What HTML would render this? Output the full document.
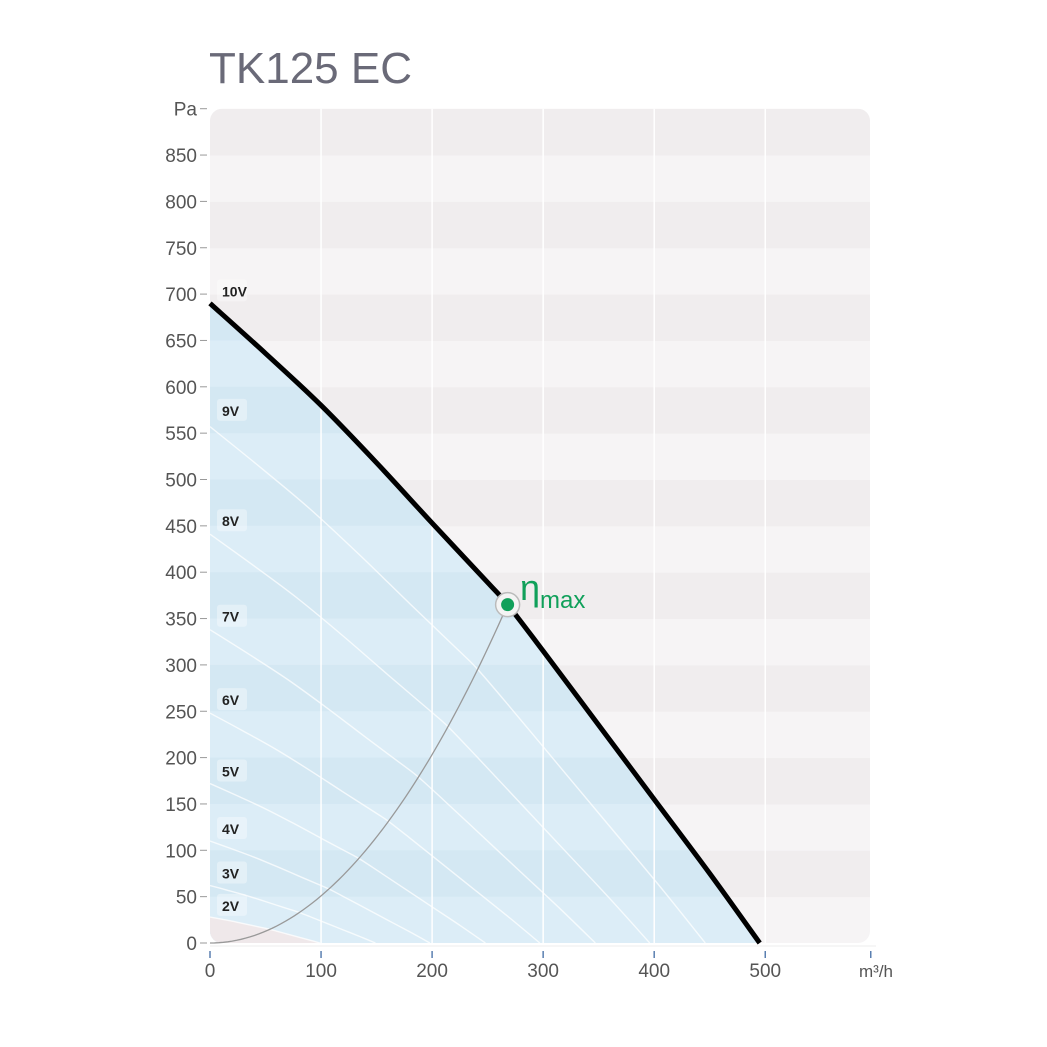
<!DOCTYPE html>
<html><head><meta charset="utf-8"><style>
html,body{margin:0;padding:0;background:#fff;}
svg{display:block;font-family:"Liberation Sans",sans-serif;}
</style></head><body>
<svg id="c" width="1047" height="1047"></svg>
<script>
const xTicks=[0,100,200,300,400,500];
const yTicks=[0,50,100,150,200,250,300,350,400,450,500,550,600,650,700,750,800,850];
const curveFlow10=[0,50,100,150,200,250,268,300,350,400,450,495];
const curvePres10=[690,636,580,518,453,389,365,315,235,155,75,0];
const voltLabels=["2V","3V","4V","5V","6V","7V","8V","9V","10V"];
const voltStartPres=[28,62,110,172,248,338,441,557,690];
const voltMaxFlow=[99,149,198,248,297,347,396,446,495];
const labelPres=[40,75,123,185,262,352,455,574,703];
const etaFlow=268, etaPres=365;

const X=v=>210+v*1.1105, Y=v=>943-v*0.927;
const NS="http://www.w3.org/2000/svg";
const svg=document.getElementById('c');
function mk(t,a,p){const e=document.createElementNS(NS,t);for(const k in a)e.setAttribute(k,a[k]);(p||svg).appendChild(e);return e;}
function smooth(p){let d='M'+p[0].join(',');for(let i=0;i<p.length-1;i++){const p0=p[i-1]||p[i],p1=p[i],p2=p[i+1],p3=p[i+2]||p2;
const c1=[p1[0]+(p2[0]-p0[0])/6,p1[1]+(p2[1]-p0[1])/6],c2=[p2[0]-(p3[0]-p1[0])/6,p2[1]-(p3[1]-p1[1])/6];
d+='C'+c1.join(',')+' '+c2.join(',')+' '+p2.join(',');}return d;}
const clip=mk('clipPath',{id:'pc'});mk('rect',{x:210,y:Y(900),width:660,height:Y(0)-Y(900),rx:12},clip);
const g=mk('g',{'clip-path':'url(#pc)'});


for(let i=0;i<18;i++){mk('rect',{x:210,y:Y((i+1)*50),width:660,height:Y(0)-Y(50)+0.5,fill:i%2?'#f0edee':'#f6f4f5'},g);}
function pts(k){const s=voltStartPres[k]/690,f=voltMaxFlow[k]/495;return curveFlow10.map((q,i)=>[X(q*f),Y(curvePres10[i]*s)]);}
const topPts=pts(8);
const region=mk('path',{d:smooth(topPts)+'L'+X(0)+','+Y(0)+'Z',fill:'#d4e8f3'},g);


const bandClip=mk('clipPath',{id:'rc'});mk('path',{d:region.getAttribute('d')},bandClip);
const rg=mk('g',{'clip-path':'url(#rc)'},g);
for(let i=0;i<18;i++){if(i%2==0)mk('rect',{x:210,y:Y((i+1)*50),width:660,height:Y(0)-Y(50),fill:'#dcedf7'},rg);}
const lowPts=pts(0);
mk('path',{d:smooth(lowPts)+'L'+X(0)+','+Y(0)+'Z',fill:'#efe8ea'},g);
xTicks.forEach(t=>{if(t>0){mk('line',{x1:X(t),x2:X(t),y1:Y(900),y2:Y(0),stroke:'#fff','stroke-width':1.5},g);}});
for(let k=0;k<8;k++){const p=pts(k);const l=mk('path',{d:smooth(p),fill:'none',stroke:'#fff','stroke-width':1.4,opacity:0.75},g);

}
const kq=etaPres/(etaFlow*etaFlow);let d='';for(let q=0;q<=etaFlow;q+=4)d+=(q?'L':'M')+X(q)+','+Y(kq*q*q);d+='L'+X(etaFlow)+','+Y(etaPres);
const ec=mk('path',{d:d,fill:'none',stroke:'#999','stroke-width':1.3});


const mc=mk('path',{d:smooth(topPts),fill:'none',stroke:'#000','stroke-width':5});


voltLabels.forEach((v,k)=>{const y=Y(labelPres[k]);
mk('rect',{x:217,y:y-12,width:30,height:22,rx:3,fill:'#ffffff',opacity:0.35});
const t=mk('text',{x:222,y:y+5,'font-size':14,'font-weight':'bold',fill:'#222'});t.textContent=v;

});
yTicks.forEach(t=>{mk('line',{x1:200,x2:207,y1:Y(t),y2:Y(t),stroke:'#999'});
const e=mk('text',{x:197,y:Y(t)+7,'text-anchor':'end','font-size':19,fill:'#555'});e.textContent=t;

});
mk('line',{x1:200,x2:207,y1:Y(900),y2:Y(900),stroke:'#999'});
const pa=mk('text',{x:197,y:Y(900)+7,'text-anchor':'end','font-size':19,fill:'#555'});pa.textContent='Pa';


mk('line',{x1:210,x2:876,y1:946,y2:946,stroke:'#eee'});
xTicks.concat([595]).forEach(t=>{mk('line',{x1:X(t),x2:X(t),y1:951,y2:958,stroke:'#5a7fb0','stroke-width':1.5});});
xTicks.forEach(t=>{const e=mk('text',{x:X(t),y:977,'text-anchor':'middle','font-size':19,fill:'#555'});e.textContent=t;

});
const mu=mk('text',{x:876,y:977,'text-anchor':'middle','font-size':17,fill:'#555'});mu.textContent='m³/h';


const ex=X(etaFlow),ey=Y(etaPres);
mk('circle',{cx:ex,cy:ey,r:12,fill:'#f4f4f4',stroke:'#bbb','stroke-width':1.5});
const dot=mk('circle',{cx:ex,cy:ey,r:6.5,fill:'#10a05a'});


const et=mk('text',{x:520,y:600,'font-size':36,fill:'#10a05a'});et.textContent='η';
const es=mk('tspan',{'font-size':24,dy:8},et);es.textContent='max';


const ti=mk('text',{x:209,y:83,'font-size':44,fill:'#6a6a78'});ti.textContent='TK125 EC';


</script>
</body></html>
